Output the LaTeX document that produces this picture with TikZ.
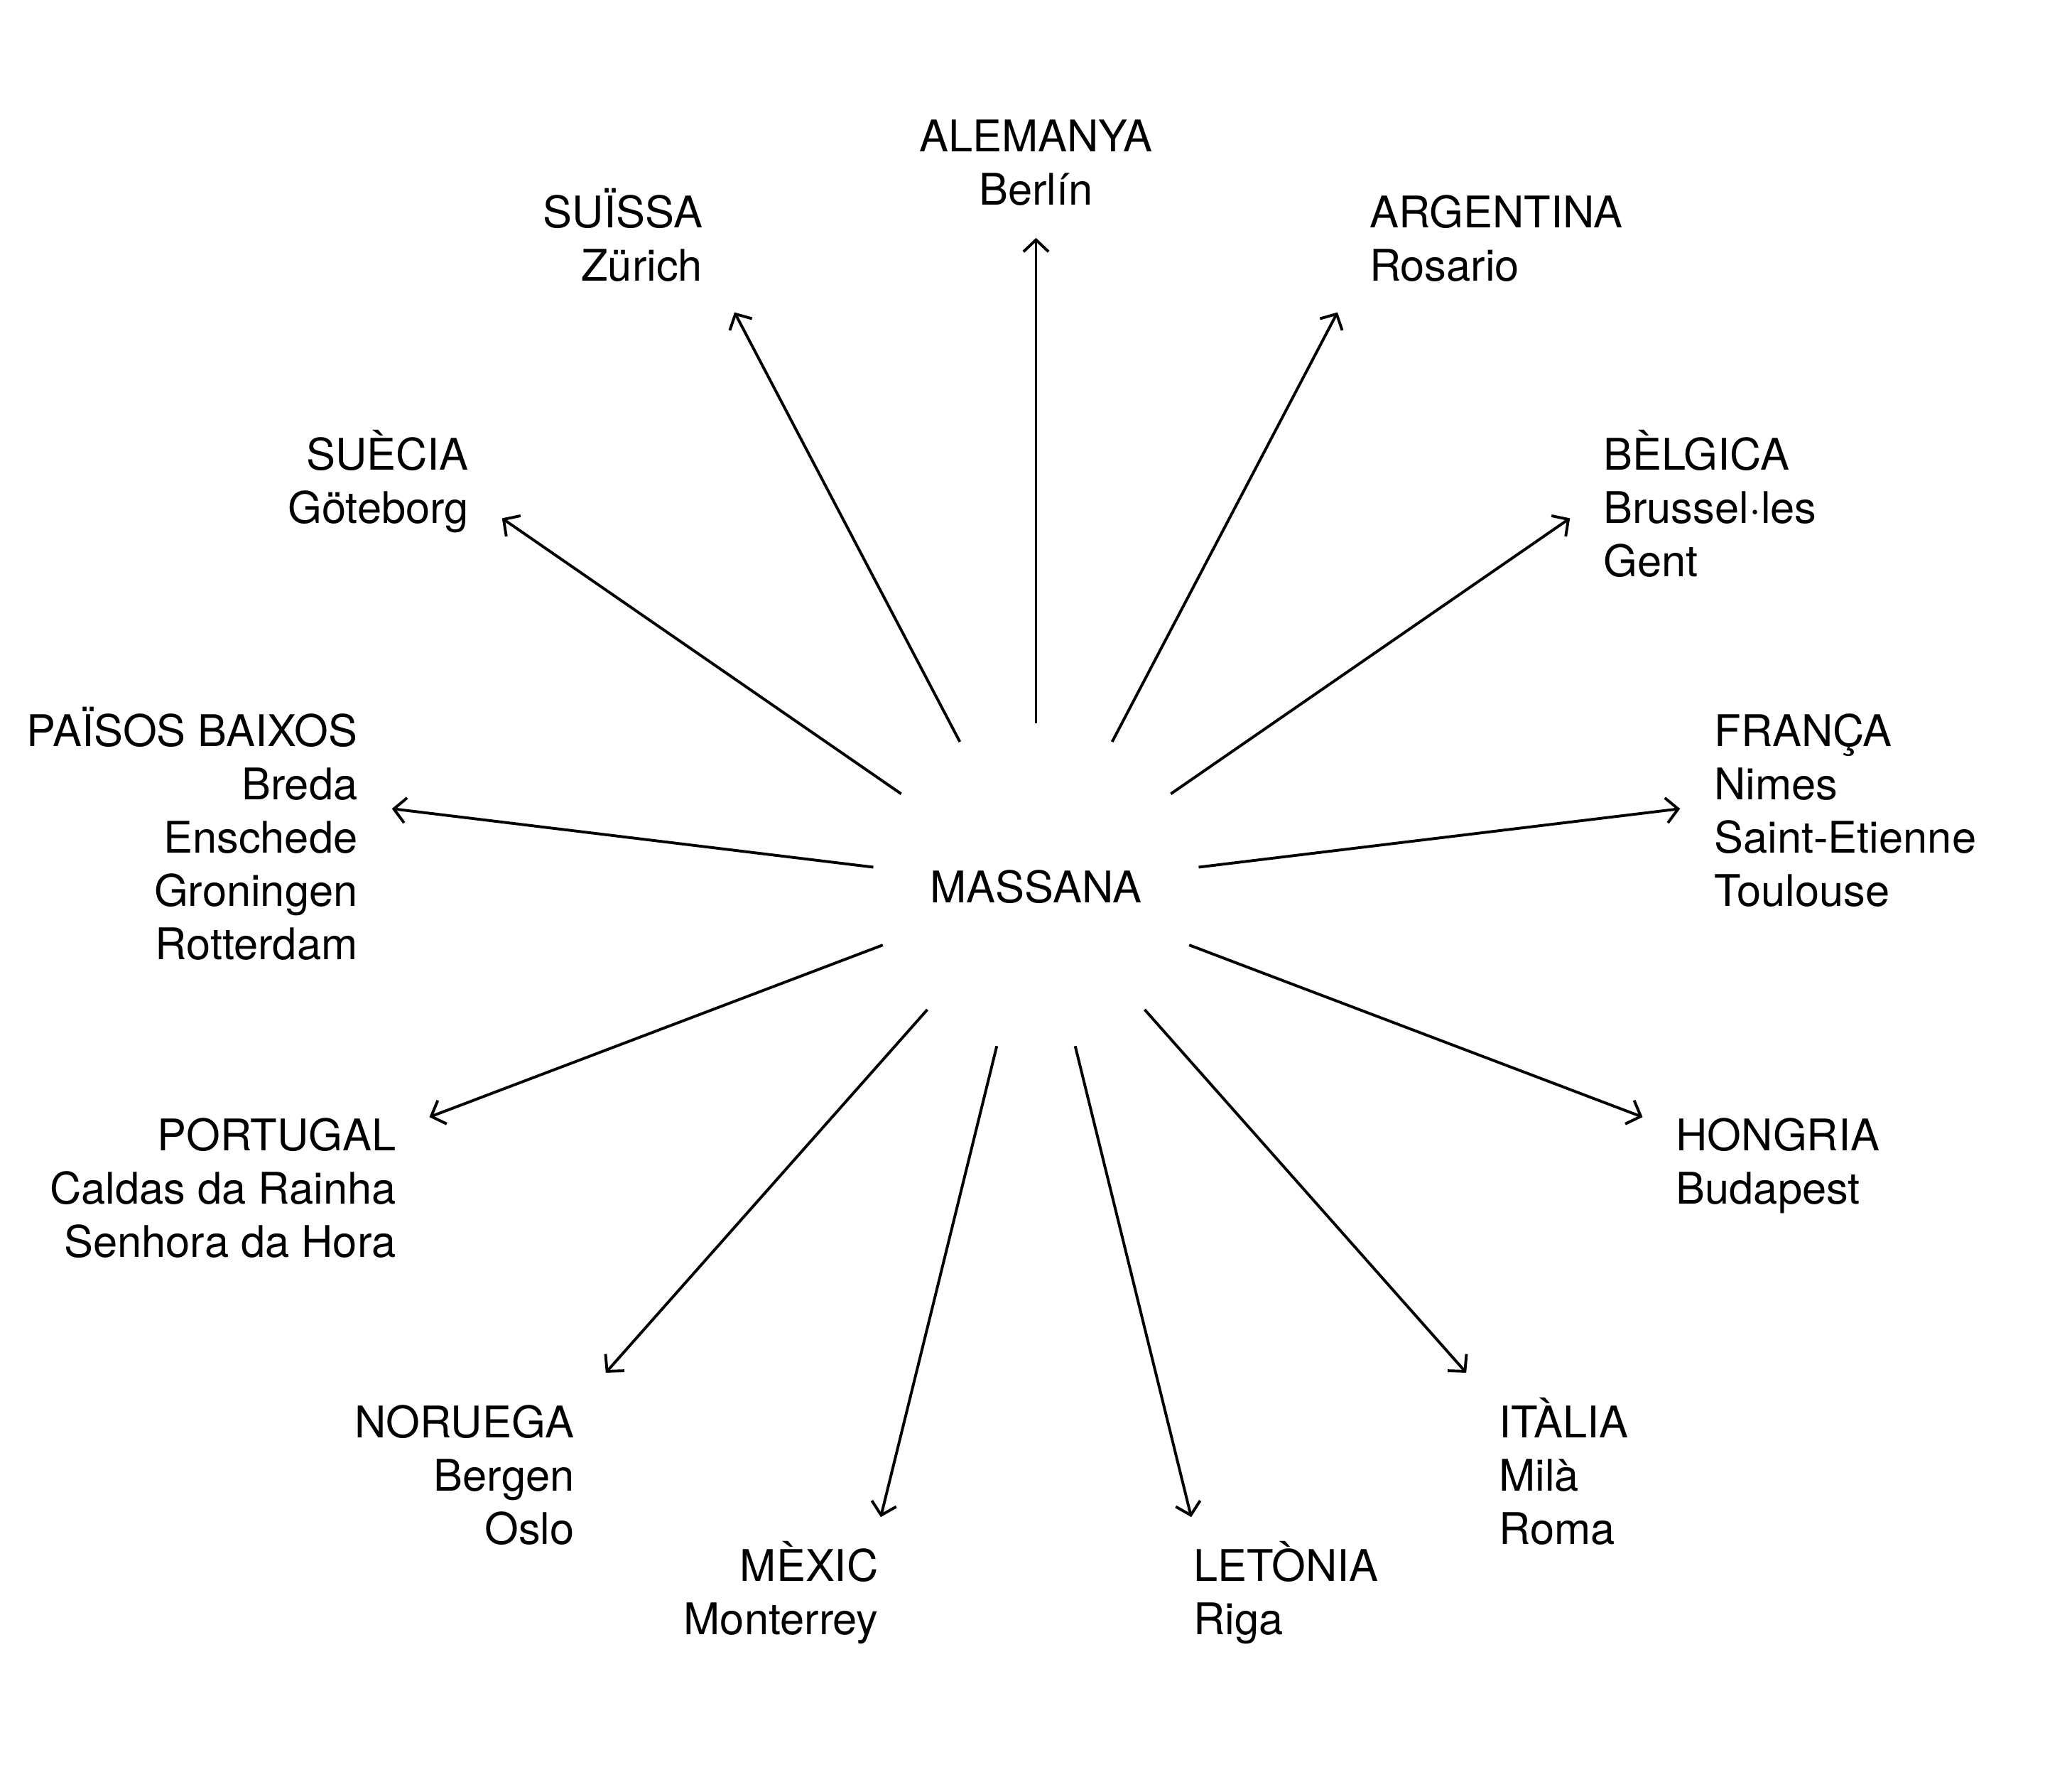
\documentclass[tikz,border=0pt]{standalone}
\usepackage{fontspec}
\setmainfont{TeX Gyre Heros}
\usetikzlibrary{arrows.meta}
\newcommand{\labelfont}{\fontsize{16.5pt}{20.15pt}\selectfont}
\tikzset{
  hub/.style={circle, minimum size=124pt, inner sep=0pt, outer sep=0pt, font=\labelfont},
  country/.style={inner sep=0pt, font=\labelfont},
  westlabel/.style={country, anchor=base east, align=right},
  eastlabel/.style={country, anchor=base west, align=left},
  link/.style={-{Straight Barb[length=4.5pt,width=9.5pt]}, line width=1.05pt}
}

\begin{document}
\begin{tikzpicture}[x=0.5pt, y=0.5pt]
  \useasboundingbox (-784,-673) rectangle (784,671);
  \node[hub] (massana) at (0,0) {MASSANA};
  % arrow tips, evenly spread round the hub
  \foreach \i in {0,...,12}{
    \coordinate (tip\i) at ({90-\i*360/13}:491);
    \draw[link] (massana) -- (tip\i);
  }
  % labels sit on the baseline of their last line
  \node[country, anchor=base, align=center] (alemanya) at (0,516) {ALEMANYA\\Berlín};
  \node[eastlabel] (argentina) at (252,458.2) {ARGENTINA\\Rosario};
  \node[eastlabel] (belgica) at (429,234.9) {BÈLGICA\\Brussel·les\\Gent};
  \node[eastlabel] (franca) at (513,-14.4) {FRANÇA\\Nimes\\Saint-Etienne\\Toulouse};
  \node[eastlabel] (hongria) at (484,-239.7) {HONGRIA\\Budapest};
  \node[eastlabel] (italia) at (350,-497.1) {ITÀLIA\\Milà\\Roma};
  \node[eastlabel] (letonia) at (119,-565.5) {LETÒNIA\\Riga};
  \node[westlabel] (mexic) at (-119,-565.5) {MÈXIC\\Monterrey};
  \node[westlabel] (noruega) at (-349,-497.1) {NORUEGA\\Bergen\\Oslo};
  \node[westlabel] (portugal) at (-484,-280) {PORTUGAL\\Caldas da Rainha\\Senhora da Hora};
  \node[westlabel] (paisos) at (-513,-54.7) {PAÏSOS BAIXOS\\Breda\\Enschede\\Groningen\\Rotterdam};
  \node[westlabel] (suecia) at (-429,275.2) {SUÈCIA\\Göteborg};
  \node[westlabel] (suissa) at (-252,458.2) {SUÏSSA\\Zürich};
\end{tikzpicture}
\end{document}
